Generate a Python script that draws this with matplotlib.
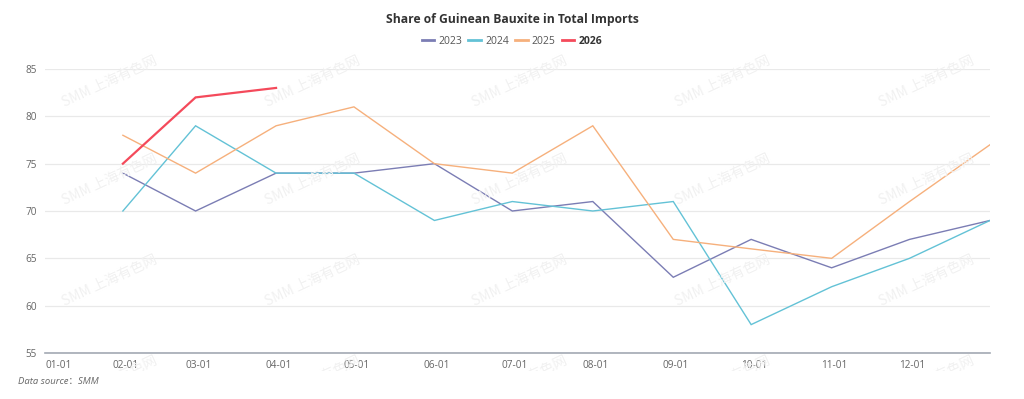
import matplotlib

matplotlib.use("Agg")
import matplotlib.dates as mdates
import matplotlib.patches as mpatches
import matplotlib.pyplot as plt
import pandas as pd
from matplotlib.lines import Line2D

plt.rcParams["font.family"] = ["Open Sans", "Noto Sans CJK SC", "DejaVu Sans"]

# monthly values, plotted at month end
month_ends = pd.date_range("2023-01-31", periods=12, freq="ME")
share_2023 = [74, 70, 74, 74, 75, 70, 71, 63, 67, 64, 67, 69]
share_2024 = [70, 79, 74, 74, 69, 71, 70, 71, 58, 62, 65, 69]
share_2025 = [78, 74, 79, 81, 75, 74, 79, 67, 66, 65, 71, 77]
share_2026 = [75, 82, 83]

series_names = ["2023", "2024", "2025", "2026"]
series_colors = ["#7b7db4", "#63c2d6", "#f6b07c", "#f44a5b"]
series_widths = [1.0, 1.0, 1.0, 1.6]

tick_labels = ["01-01", "02-01", "03-01", "04-01", "05-01", "06-01",
               "07-01", "08-01", "09-01", "10-01", "11-01", "12-01"]
y_ticks = [55, 60, 65, 70, 75, 80, 85]

W, H = 1024, 399
figure = plt.figure(figsize=(W / 100, H / 100), dpi=100)
axis = figure.add_axes([45 / W, (H - 353) / H, 945 / W, 284 / H])

# watermark grid, bottom row only partly shown
clip_rect = mpatches.Rectangle((0, (H - 371) / H), 1, 371 / H,
                               transform=figure.transFigure, visible=False)
figure.add_artist(clip_rect)
for wy in [82, 180, 281, 382]:
    for wx in [110, 313, 520, 723, 927]:
        wm = figure.text(wx / W, 1 - wy / H, "SMM 上海有色网", rotation=25,
                         ha="center", va="center", fontsize=10, color="#f1f1f1",
                         family=["Noto Sans CJK SC", "DejaVu Sans"], zorder=0)
        wm.set_clip_path(clip_rect)

all_series = [share_2023, share_2024, share_2025, share_2026]
for name, values, color, width in zip(series_names, all_series, series_colors, series_widths):
    axis.plot(month_ends[: len(values)], values, color=color, linewidth=width,
              solid_joinstyle="miter", zorder=3)

axis.set_xlim(pd.Timestamp("2023-01-01"), pd.Timestamp("2023-12-31"))
axis.set_ylim(55, 85)
axis.set_yticks(y_ticks)
axis.grid(axis="y", color="#e9e9e9", linewidth=0.9)
axis.set_axisbelow(True)
axis.patch.set_alpha(0)

tick_dates = pd.date_range("2023-01-01", periods=12, freq="MS")
axis.set_xticks(tick_dates)
axis.set_xticklabels(tick_labels)
axis.xaxis.set_major_formatter(mdates.DateFormatter("%m-%d"))
for label in axis.get_xticklabels()[:1]:
    label.set_ha("left")

for side in ["top", "right", "left"]:
    axis.spines[side].set_visible(False)
axis.spines["bottom"].set_color("#a3a9b3")
axis.spines["bottom"].set_linewidth(1.2)
axis.tick_params(axis="both", length=0, labelsize=7.2, colors="#666666")
axis.tick_params(axis="x", pad=5)
axis.tick_params(axis="y", pad=6)

figure.text(0.5, 1 - 19 / H, "Share of Guinean Bauxite in Total Imports",
            ha="center", va="center", fontsize=8.7, fontweight="bold", color="#333333")

handles = [Line2D([], [], color=c, linewidth=2) for c in series_colors]
legend = figure.legend(handles, series_names, loc="center", bbox_to_anchor=(0.5, 1 - 41 / H),
                       ncol=4, frameon=False, fontsize=7.5, handlelength=1.2,
                       handletextpad=0.4, columnspacing=0.6, labelcolor="#555555")
legend.get_texts()[-1].set_fontweight("bold")
legend.get_texts()[-1].set_color("#333333")

figure.text(18 / W, 1 - 381 / H, "Data source：SMM", ha="left", va="center",
            fontsize=6.8, style="italic", color="#666666")

figure.savefig("out.png", dpi=100)
plt.close(figure)
